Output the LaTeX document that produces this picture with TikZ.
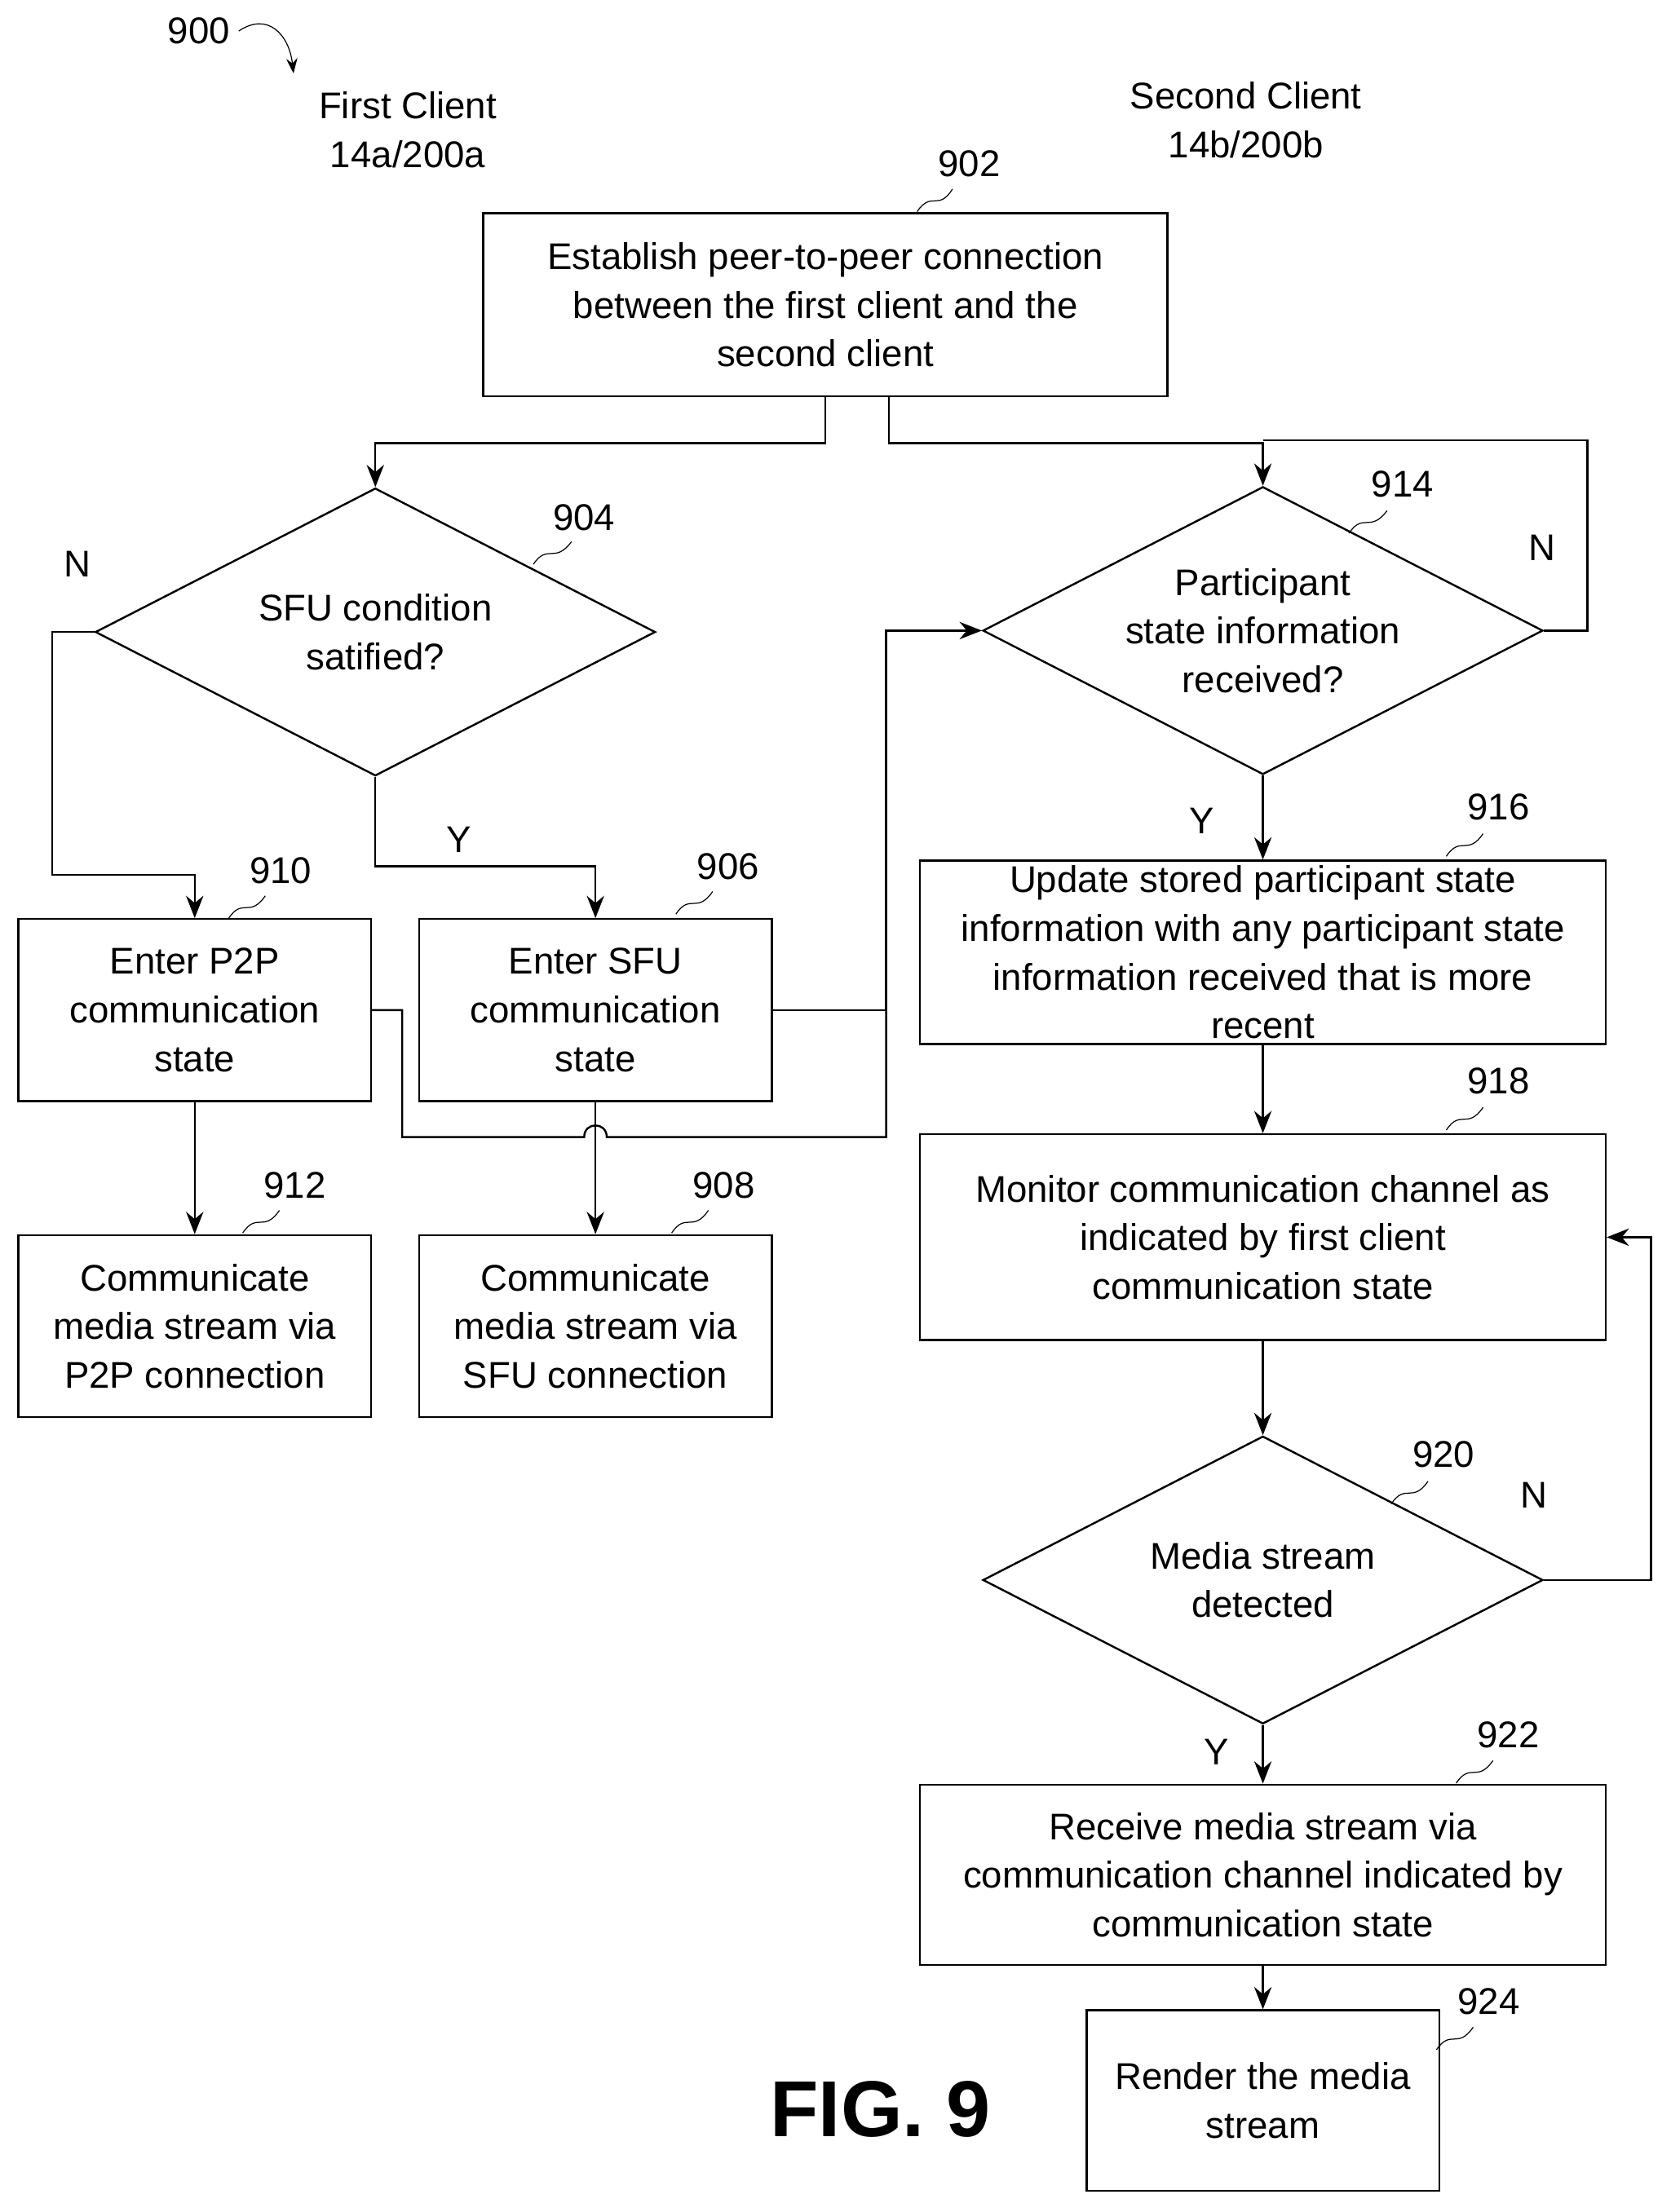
\documentclass[tikz,border=0pt]{standalone}
\usepackage{fontspec}
\setmainfont{Liberation Sans}
\usetikzlibrary{shapes.geometric,arrows.meta}

\begin{document}
\begin{tikzpicture}[x=0.02cm,y=-0.02cm,
    box/.style={draw,thick,minimum width=5cm,minimum height=2.58cm,align=center,inner sep=0pt},
    wide/.style={box,minimum width=9.72cm},
    dia/.style={draw,thick,diamond,minimum width=7.94cm,minimum height=4.08cm,inner sep=0pt},
    txt/.style={align=center},
    arr/.style={thick,-{Stealth[length=9pt,width=7pt]}},
    line/.style={thick},
    lead/.style={thin},
    every node/.style={font=\fontsize{15}{19.6}\selectfont}]
    \useasboundingbox (0,0) rectangle (1184,1568);

    % Kopf
    \node (n900) at (141,22) {900};
    \draw[lead,-{Stealth[length=6pt]}] (n900.east) .. controls (190,8) and (205,25) .. (208,52);
    \node[txt] (first) at (289,92) {First Client\\14a/200a};
    \node[txt] (second) at (883,85) {Second Client\\14b/200b};

    % Knoten
    \node[wide,minimum width=9.7cm,minimum height=2.6cm] (b902) at (585,216) {Establish peer-to-peer connection\\between the first client and the\\second client};
    \node[dia] (d904) at (266,448) {};
    \node[txt] at (d904) {SFU condition\\satified?};
    \node[dia] (d914) at (895,447) {};
    \node[txt] at (d914) {Participant\\state information\\received?};
    \node[box] (b910) at (138,716) {Enter P2P\\communication\\state};
    \node[box] (b906) at (422,716) {Enter SFU\\communication\\state};
    \node[wide,minimum height=2.6cm] (b916) at (895,675) {Update stored participant state\\information with any participant state\\information received that is more\\recent};
    \node[box] (b912) at (138,940) {Communicate\\media stream via\\P2P connection};
    \node[box] (b908) at (422,940) {Communicate\\media stream via\\SFU connection};
    \node[wide,minimum height=2.92cm] (b918) at (895,877) {Monitor communication channel as\\indicated by first client\\communication state};
    \node[dia] (d920) at (895,1120) {};
    \node[txt] at (d920) {Media stream\\detected};
    \node[wide,minimum height=2.56cm] (b922) at (895,1329) {Receive media stream via\\communication channel indicated by\\communication state};
    \node[box,minimum height=2.56cm] (b924) at (895,1489) {Render the media\\stream};
    \node[font=\fontsize{32}{36}\selectfont\bfseries] (fig) at (624,1495) {FIG. 9};

    % Verbindungen
    \draw[arr] (b902.south -| 585,0) |- (266,314) -- (d904.north);
    \draw[arr] (b902.south -| 630,0) |- (895,314) -- (d914.north);
    \draw[line] (d914.east) -- (1125,447) -- (1125,312) -- (895,312);
    \draw[arr] (d904.west) -- (37,448) |- (138,620) -- (b910.north);
    \draw[arr] (d904.south) -- (266,614) -| (b906.north);
    \draw[arr] (b906.east) -- (628,716) |- (d914.west);
    \draw[line] (b910.east) -- (285,716) -- (285,806) -- (414,806)
        .. controls (414,795) and (430,795) .. (430,806) -- (628,806) -- (628,716);
    \draw[arr] (b910) -- (b912);
    \draw[arr] (b906) -- (b908);
    \draw[arr] (d914) -- (b916);
    \draw[arr] (b916) -- (b918);
    \draw[arr] (b918) -- (d920);
    \draw[arr] (d920.east) -- (1170,1120) |- (b918.east);
    \draw[arr] (d920) -- (b922);
    \draw[arr] (b922) -- (b924);

    % Y/N
    \node at (55,400) {N};
    \node at (325,595) {Y};
    \node at (1093,388) {N};
    \node at (852,582) {Y};
    \node at (1087,1060) {N};
    \node at (862,1242) {Y};

    % Bezugszeichen
    \node (r902) at (687,116) {902};
    \draw[lead] (650,150) .. controls (660,135) and (665,150) .. (675,134);
    \node (r904) at (414,367) {904};
    \draw[lead] (378,400) .. controls (388,385) and (393,400) .. (405,384);
    \node (r914) at (994,343) {914};
    \draw[lead] (956,378) .. controls (966,363) and (971,378) .. (983,362);
    \node (r910) at (199,617) {910};
    \draw[lead] (162,651) .. controls (172,636) and (177,651) .. (188,635);
    \node (r906) at (516,614) {906};
    \draw[lead] (479,648) .. controls (489,633) and (494,648) .. (505,632);
    \node (r916) at (1062,572) {916};
    \draw[lead] (1025,607) .. controls (1035,592) and (1040,607) .. (1051,591);
    \node (r912) at (209,840) {912};
    \draw[lead] (172,874) .. controls (182,859) and (187,874) .. (198,858);
    \node (r908) at (513,840) {908};
    \draw[lead] (476,874) .. controls (486,859) and (491,874) .. (502,858);
    \node (r918) at (1062,766) {918};
    \draw[lead] (1025,801) .. controls (1035,786) and (1040,801) .. (1051,785);
    \node (r920) at (1023,1031) {920};
    \draw[lead] (986,1066) .. controls (996,1051) and (1001,1066) .. (1012,1050);
    \node (r922) at (1069,1230) {922};
    \draw[lead] (1032,1264) .. controls (1042,1249) and (1047,1264) .. (1058,1248);
    \node (r924) at (1055,1419) {924};
    \draw[lead] (1018,1453) .. controls (1028,1438) and (1033,1453) .. (1044,1437);
\end{tikzpicture}
\end{document}
